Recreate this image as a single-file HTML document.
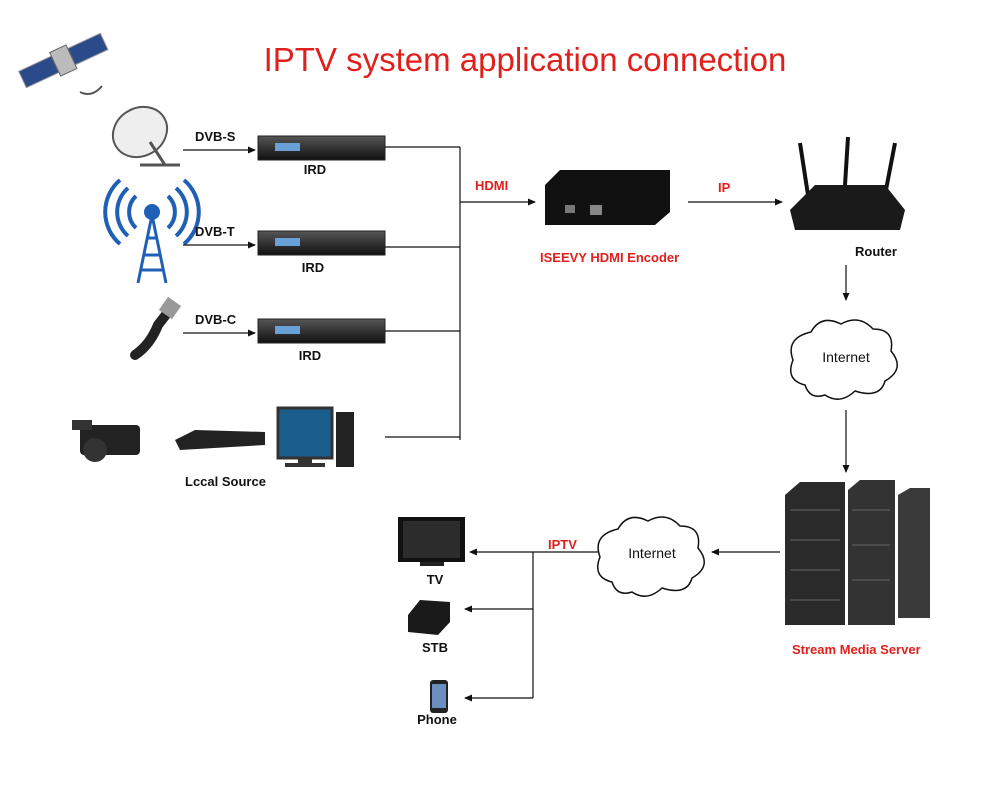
<!DOCTYPE html>
<html><head><meta charset="utf-8"><style>
body{margin:0;background:#fff;}
svg{display:block;font-family:"Liberation Sans",Arial,sans-serif;}
.b{font-size:13px;font-weight:bold;fill:#111;}
.r{font-size:13px;font-weight:bold;fill:#e0201c;}
</style></head><body>
<svg width="1000" height="803" viewBox="0 0 1000 803" xmlns="http://www.w3.org/2000/svg">
<defs>
<marker id="a" markerWidth="8" markerHeight="8" refX="7" refY="4" orient="auto" markerUnits="userSpaceOnUse"><path d="M0,0.5 L8,4 L0,7.5 z" fill="#111"/></marker>
<linearGradient id="ird" x1="0" y1="0" x2="0" y2="1"><stop offset="0" stop-color="#555"/><stop offset="1" stop-color="#111"/></linearGradient>
</defs>
<text x="525" y="71" text-anchor="middle" font-size="33" fill="#e0201c">IPTV system application connection</text>

<!-- satellite -->
<g transform="rotate(-25 62 60)">
<rect x="18" y="52" width="36" height="18" fill="#2a4a8a" stroke="#999"/>
<rect x="72" y="52" width="36" height="18" fill="#2a4a8a" stroke="#999"/>
<rect x="54" y="48" width="18" height="26" fill="#bbb" stroke="#666"/>
</g>
<path d="M80,92 q12,6 22,-6" stroke="#555" fill="none" stroke-width="2"/>

<!-- dish -->
<ellipse cx="140" cy="132" rx="28" ry="24" fill="#eee" stroke="#555" stroke-width="2" transform="rotate(-30 140 132)"/>
<line x1="150" y1="142" x2="165" y2="165" stroke="#555" stroke-width="3"/>
<line x1="140" y1="165" x2="180" y2="165" stroke="#555" stroke-width="3"/>

<!-- tower -->
<path d="M152,215 L138,283 M152,215 L166,283 M143,255 L161,255 M146,238 L158,238 M140,270 L164,270" stroke="#1f5fb5" stroke-width="3" fill="none"/>
<circle cx="152" cy="212" r="8" fill="#1f5fb5"/>
<path d="M136,196 a22,22 0 0 0 0,32 M168,196 a22,22 0 0 1 0,32 M128,188 a32,32 0 0 0 0,48 M176,188 a32,32 0 0 1 0,48 M120,180 a42,42 0 0 0 0,64 M184,180 a42,42 0 0 1 0,64" stroke="#1f5fb5" stroke-width="4" fill="none"/>

<!-- cable -->
<path d="M135,355 Q150,345 158,325 L168,312" stroke="#222" stroke-width="10" fill="none" stroke-linecap="round"/>
<rect x="162" y="300" width="16" height="16" fill="#999" transform="rotate(35 170 308)"/>

<!-- IRDs -->
<g fill="url(#ird)" stroke="#222">
<rect x="258" y="136" width="127" height="24"/>
<rect x="258" y="231" width="127" height="24"/>
<rect x="258" y="319" width="127" height="24"/>
</g>
<g fill="#6aa0d8"><rect x="275" y="143" width="25" height="8"/><rect x="275" y="238" width="25" height="8"/><rect x="275" y="326" width="25" height="8"/></g>

<text x="195" y="141" class="b">DVB-S</text>
<text x="195" y="236" class="b">DVB-T</text>
<text x="195" y="324" class="b">DVB-C</text>
<text x="315" y="174" class="b" text-anchor="middle">IRD</text>
<text x="313" y="272" class="b" text-anchor="middle">IRD</text>
<text x="310" y="360" class="b" text-anchor="middle">IRD</text>

<g stroke="#111" stroke-width="1.2" fill="none">
<line x1="183" y1="150" x2="255" y2="150" marker-end="url(#a)"/>
<line x1="183" y1="245" x2="255" y2="245" marker-end="url(#a)"/>
<line x1="183" y1="333" x2="255" y2="333" marker-end="url(#a)"/>
<line x1="385" y1="147" x2="460" y2="147"/>
<line x1="385" y1="247" x2="460" y2="247"/>
<line x1="385" y1="331" x2="460" y2="331"/>
<line x1="385" y1="437" x2="460" y2="437"/>
<line x1="460" y1="147" x2="460" y2="440"/>
<line x1="460" y1="202" x2="535" y2="202" marker-end="url(#a)"/>
<line x1="688" y1="202" x2="782" y2="202" marker-end="url(#a)"/>
<line x1="846" y1="265" x2="846" y2="300" marker-end="url(#a)"/>
<line x1="846" y1="410" x2="846" y2="472" marker-end="url(#a)"/>
<line x1="780" y1="552" x2="712" y2="552" marker-end="url(#a)"/>
<line x1="598" y1="552" x2="470" y2="552" marker-end="url(#a)"/>
<line x1="533" y1="552" x2="533" y2="698"/>
<line x1="533" y1="609" x2="465" y2="609" marker-end="url(#a)"/>
<line x1="533" y1="698" x2="465" y2="698" marker-end="url(#a)"/>
</g>

<!-- local source -->
<rect x="80" y="425" width="60" height="30" rx="4" fill="#222"/>
<circle cx="95" cy="450" r="12" fill="#333"/>
<rect x="72" y="420" width="20" height="10" fill="#333"/>
<path d="M175,440 L195,430 L265,432 L265,445 L180,450 z" fill="#222"/>
<rect x="278" y="408" width="54" height="50" fill="#1a5c8c" stroke="#333" stroke-width="3"/>
<rect x="298" y="458" width="14" height="6" fill="#333"/><rect x="285" y="463" width="40" height="4" fill="#333"/>
<rect x="336" y="412" width="18" height="55" fill="#222"/>
<text x="185" y="486" class="b">Lccal Source</text>

<!-- encoder -->
<path d="M545,185 L560,170 L670,170 L670,212 L655,225 L545,225 z" fill="#111"/>
<rect x="565" y="205" width="10" height="8" fill="#777"/><rect x="590" y="205" width="12" height="10" fill="#888"/>
<text x="475" y="190" class="r">HDMI</text>
<text x="718" y="192" class="r">IP</text>
<text x="540" y="262" class="r">ISEEVY HDMI Encoder</text>

<!-- router -->
<line x1="808" y1="195" x2="800" y2="143" stroke="#111" stroke-width="4"/>
<line x1="845" y1="185" x2="848" y2="137" stroke="#111" stroke-width="4"/>
<line x1="885" y1="195" x2="895" y2="143" stroke="#111" stroke-width="4"/>
<path d="M790,210 L815,185 L885,185 L905,210 L900,230 L795,230 z" fill="#1a1a1a"/>
<text x="855" y="256" class="b">Router</text>

<!-- clouds -->
<g fill="#fff" stroke="#111" stroke-width="1.5">
<path d="M805,385 q-20,-5 -12,-25 q-8,-22 18,-28 q10,-18 30,-8 q18,-10 32,5 q22,0 18,22 q15,18 -6,30 q-5,18 -30,10 q-15,14 -30,4 q-15,5 -20,-10 z"/>
<path d="M612,582 q-20,-5 -12,-25 q-8,-22 18,-28 q10,-18 30,-8 q18,-10 32,5 q22,0 18,22 q15,18 -6,30 q-5,18 -30,10 q-15,14 -30,4 q-15,5 -20,-10 z"/>
</g>
<text x="846" y="362" font-size="14" fill="#111" text-anchor="middle">Internet</text>
<text x="652" y="558" font-size="14" fill="#111" text-anchor="middle">Internet</text>

<!-- servers -->
<path d="M785,495 L800,482 L845,482 L845,625 L785,625 z" fill="#2a2a2a"/>
<path d="M848,490 L860,480 L895,480 L895,625 L848,625 z" fill="#333"/>
<path d="M898,495 L910,488 L930,488 L930,618 L898,618 z" fill="#3a3a3a"/>
<g stroke="#666" stroke-width="1">
<line x1="790" y1="510" x2="840" y2="510"/><line x1="790" y1="540" x2="840" y2="540"/><line x1="790" y1="570" x2="840" y2="570"/><line x1="790" y1="600" x2="840" y2="600"/>
<line x1="852" y1="510" x2="890" y2="510"/><line x1="852" y1="545" x2="890" y2="545"/><line x1="852" y1="580" x2="890" y2="580"/>
</g>
<text x="792" y="654" class="r">Stream Media Server</text>
<text x="548" y="549" class="r">IPTV</text>

<!-- devices -->
<rect x="398" y="517" width="67" height="45" fill="#111"/><rect x="403" y="521" width="57" height="37" fill="#2c2c2c"/>
<rect x="420" y="562" width="24" height="4" fill="#222"/>
<text x="435" y="584" class="b" text-anchor="middle">TV</text>
<path d="M408,615 L420,600 L450,602 L450,622 L438,635 L408,632 z" fill="#1a1a1a"/>
<text x="435" y="652" class="b" text-anchor="middle">STB</text>
<rect x="430" y="680" width="18" height="33" rx="3" fill="#222"/><rect x="432" y="684" width="14" height="24" fill="#6a8fc0"/>
<text x="437" y="724" class="b" text-anchor="middle">Phone</text>
</svg>
</body></html>
